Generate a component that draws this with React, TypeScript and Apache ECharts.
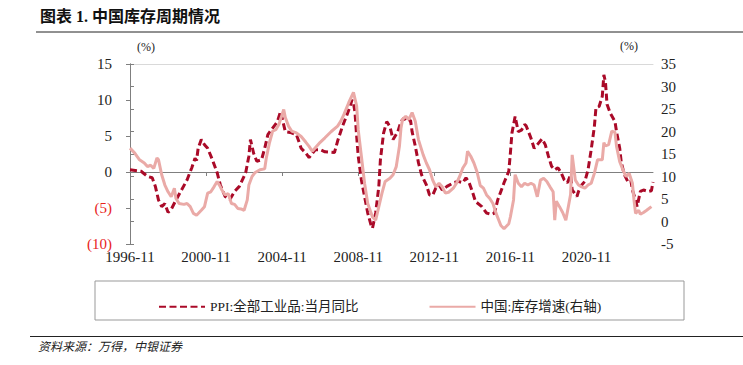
import React, { useEffect, useRef } from 'react';
import * as echarts from 'echarts';

// PPI: 全部工业品: 当月同比 (left axis, %)
const ppiDates = [
  '1996-11','1997-06','1997-10','1998-01','1998-03','1998-05','1998-07','1998-09','1998-11','1999-01',
  '1999-04','1999-07','1999-11','2000-02','2000-04','2000-05','2000-06','2000-08','2000-10','2000-12',
  '2001-03','2001-06','2001-08','2001-11','2002-02','2002-05','2002-08','2002-12','2003-02','2003-03',
  '2003-05','2003-07','2003-10','2003-12','2004-02','2004-05','2004-08','2004-10','2005-01','2005-04',
  '2005-08','2005-11','2006-02','2006-04','2006-08','2006-11','2007-02','2007-08','2007-10','2008-01',
  '2008-04','2008-06','2008-07','2008-08','2008-09','2008-10','2008-11','2009-01','2009-03','2009-05',
  '2009-07','2009-08','2009-10','2009-12','2010-01','2010-03','2010-05','2010-07','2010-09','2010-12',
  '2011-02','2011-04','2011-06','2011-08','2011-09','2011-11','2012-01','2012-03','2012-06','2012-08',
  '2012-10','2012-12','2013-02','2013-04','2013-07','2013-11','2014-02','2014-05','2014-07','2014-09',
  '2014-11','2015-01','2015-05','2015-08','2015-11','2016-01','2016-03','2016-05','2016-07','2016-10',
  '2016-11','2016-12','2017-02','2017-04','2017-06','2017-08','2017-09','2017-12','2018-02','2018-04',
  '2018-07','2018-09','2018-11','2019-01','2019-03','2019-05','2019-07','2019-09','2019-11','2020-01',
  '2020-02','2020-05','2020-06','2020-08','2020-10','2020-12','2021-02','2021-04','2021-05','2021-07',
  '2021-09','2021-10','2021-11','2021-12','2022-02','2022-05','2022-06','2022-08','2022-09','2022-11',
  '2023-01','2023-03','2023-04','2023-06','2023-07','2023-09','2023-11','2024-02','2024-04','2024-05',
];
const ppiValues = [
  0.3, 0.1, -0.6, -0.8, -2.0, -3.9, -4.8, -4.4, -5.6, -5.2,
  -3.9, -2.7, -1.1, 0.6, 1.9, 1.6, 3.3, 4.5, 3.8, 3.3,
  1.7, -0.1, -1.8, -3.4, -3.8, -2.7, -2.0, -0.1, 2.2, 4.5,
  2.6, 1.5, 1.7, 3.3, 5.2, 6.1, 7.0, 8.4, 5.6, 5.5,
  5.2, 3.3, 2.6, 2.0, 3.1, 3.1, 2.8, 2.7, 4.3, 6.3,
  8.0, 9.2, 10.0, 9.6, 8.2, 5.0, 2.2, -1.1, -3.4, -5.7,
  -7.3, -7.8, -5.7, -2.0, 1.7, 5.4, 7.0, 6.3, 4.5, 5.6,
  7.0, 7.5, 7.0, 7.2, 5.6, 3.6, 1.3, -0.4, -1.8, -3.2,
  -3.2, -2.2, -1.8, -2.5, -2.0, -1.5, -1.3, -1.5, -0.8, -1.5,
  -2.7, -4.1, -4.8, -5.7, -5.9, -5.7, -3.9, -2.7, -1.5, 0.1,
  2.6, 5.4, 7.7, 5.6, 5.8, 6.6, 6.4, 4.7, 3.3, 3.8,
  4.6, 3.8, 2.2, 0.8, 0.3, 0.6, -0.1, -1.1, -1.5, -0.4,
  -2.5, -3.4, -2.7, -1.8, -1.3, 0.3, 3.1, 6.3, 8.9, 9.1,
  10.5, 13.5, 12.5, 9.4, 8.2, 7.0, 5.6, 3.3, 1.3, -0.4,
  -1.3, -1.1, -2.5, -3.9, -4.8, -2.7, -2.5, -2.7, -2.6, -1.4,
];

// 中国: 库存增速 (right axis, %)
const invDates = [
  '1996-11','1997-02','1997-05','1997-08','1997-10','1997-12','1998-02','1998-04','1998-05','1998-07',
  '1998-09','1998-11','1999-01','1999-03','1999-04','1999-06','1999-09','1999-11','2000-01','2000-03',
  '2000-05','2000-08','2000-10','2000-12','2001-02','2001-04','2001-06','2001-08','2001-09','2001-11',
  '2002-01','2002-03','2002-05','2002-07','2002-09','2002-11','2003-01','2003-02','2003-04','2003-06',
  '2003-09','2003-12','2004-01','2004-03','2004-05','2004-07','2004-09','2004-11','2004-12','2005-01',
  '2005-03','2005-05','2005-08','2005-11','2006-02','2006-04','2006-06','2006-11','2007-02','2007-06',
  '2007-10','2007-12','2008-02','2008-05','2008-08','2008-10','2008-11','2009-01','2009-03','2009-05',
  '2009-08','2009-10','2009-12','2010-02','2010-04','2010-07','2010-09','2010-11','2011-01','2011-02',
  '2011-03','2011-05','2011-07','2011-09','2011-11','2012-01','2012-04','2012-06','2012-08','2012-10',
  '2012-12','2013-02','2013-04','2013-06','2013-08','2013-11','2014-01','2014-03','2014-05','2014-07',
  '2014-08','2014-10','2014-12','2015-02','2015-04','2015-06','2015-08','2015-10','2015-12','2016-02',
  '2016-05','2016-07','2016-10','2016-11','2017-01','2017-02','2017-04','2017-06','2017-08','2017-10',
  '2017-12','2018-02','2018-04','2018-06','2018-08','2018-10','2018-12','2019-02','2019-03','2019-04',
  '2019-06','2019-08','2019-10','2020-01','2020-02','2020-04','2020-06','2020-08','2020-10','2020-12',
  '2021-02','2021-04','2021-06','2021-09','2021-10','2021-11','2022-01','2022-03','2022-05','2022-06',
  '2022-08','2022-10','2022-12','2023-02','2023-04','2023-05','2023-06','2023-08','2023-09','2023-11',
  '2024-01','2024-04',
];
const invValues = [
  16.3, 15.2, 13.7, 13.0, 12.2, 12.5, 11.8, 14.1, 13.7, 10.4,
  8.1, 6.6, 5.5, 7.4, 5.1, 4.0, 3.8, 4.0, 3.3, 1.8,
  1.4, 2.5, 3.3, 6.3, 6.6, 7.7, 8.9, 7.7, 7.0, 5.9,
  6.2, 4.0, 3.8, 2.9, 2.8, 2.5, 4.8, 8.1, 10.0, 10.9,
  11.5, 11.7, 14.1, 17.5, 20.1, 20.4, 21.6, 23.8, 24.9, 23.1,
  21.2, 20.1, 19.7, 18.9, 17.6, 16.7, 15.6, 17.6, 18.6, 20.0,
  21.2, 22.3, 23.8, 26.4, 28.7, 25.7, 20.4, 14.5, 8.5, 4.0,
  1.0, 0.3, 3.3, 6.3, 8.9, 9.6, 10.4, 12.2, 16.7, 20.8,
  22.7, 23.4, 22.7, 24.2, 22.3, 18.2, 14.8, 13.0, 11.5, 9.2,
  7.7, 8.5, 7.7, 6.3, 6.5, 7.4, 8.5, 10.0, 11.9, 13.0,
  15.6, 14.5, 13.0, 11.0, 8.0, 7.4, 5.9, 5.1, 4.0, 1.8,
  -0.9, -1.6, -0.5, 1.0, 4.8, 10.4, 8.5, 7.7, 8.5, 8.1,
  8.5, 8.1, 5.5, 9.2, 9.6, 8.9, 7.7, 6.6, 0.3, 4.5,
  3.3, 2.0, 0.3, 6.0, 14.8, 9.2, 8.1, 7.7, 7.4, 8.1,
  8.5, 10.7, 13.7, 13.7, 17.5, 16.8, 17.1, 20.1, 19.8, 16.7,
  13.3, 11.5, 10.0, 10.7, 8.5, 4.8, 1.8, 2.5, 1.6, 2.0,
  2.5, 3.3,
];

const xStart = '1996-11';
const xEnd = '2024-05';
const xTickLabels = ['1996-11', '2000-11', '2004-11', '2008-11', '2012-11', '2016-11', '2020-11'];
const leftTicks = [-10, -5, 0, 5, 10, 15];
const rightTicks = [-5, 0, 5, 10, 15, 20, 25, 30, 35];

const seriesNames = ['PPI:全部工业品:当月同比', '中国:库存增速(右轴)'];
const titleText = '图表 1. 中国库存周期情况';
const sourceText = '资料来源：万得，中银证券';
const unitText = '(%)';

const toMonth = (s: string) => {
  const [y, m] = s.split('-').map(Number);
  const [y0, m0] = xStart.split('-').map(Number);
  return (y - y0) * 12 + (m - m0);
};
const toLabel = (v: number) => {
  const [y0, m0] = xStart.split('-').map(Number);
  const t = m0 - 1 + Math.round(v);
  const y = y0 + Math.floor(t / 12);
  const m = (t % 12) + 1;
  return `${y}-${String(m).padStart(2, '0')}`;
};

const SERIF = '"Liberation Serif", "Times New Roman", "Noto Sans CJK SC", serif';
const CJK = '"Liberation Serif", "Noto Sans CJK SC", sans-serif';

export default function App() {
  const ref = useRef<HTMLDivElement>(null);
  useEffect(() => {
    if (!ref.current) return;
    const chart = echarts.init(ref.current, undefined, { renderer: 'svg' });
    const xMin = toMonth(xStart);
    const xMax = toMonth(xEnd);
    const tickVals = xTickLabels.map(toMonth);
    const option: any = {
      animation: false,
      backgroundColor: '#ffffff',
      grid: { left: 130, right: 90, top: 64, bottom: 121 },
      legend: {
        data: seriesNames,
        left: 153,
        top: 295,
        itemWidth: 46,
        itemHeight: 14,
        itemGap: 70,
        itemStyle: { opacity: 0 },
        textStyle: { fontFamily: CJK, fontSize: 13.5, color: '#222' },
      },
      xAxis: [
        {
          type: 'value',
          min: xMin,
          max: xMax,
          position: 'bottom',
          axisLine: { show: true, onZero: true, onZeroAxisIndex: 0, lineStyle: { color: '#7f7f7f', width: 1 } },
          axisTick: { show: true, length: 4, customValues: tickVals, lineStyle: { color: '#7f7f7f' } },
          axisLabel: {
            show: true,
            customValues: tickVals,
            margin: 5,
            formatter: (v: number) => toLabel(v),
            fontFamily: SERIF,
            fontSize: 15,
            color: '#222',
          },
          splitLine: { show: false },
        },
        {
          type: 'value',
          min: xMin,
          max: xMax,
          position: 'top',
          axisLine: { show: true, onZero: false, lineStyle: { color: '#d9d9d9', width: 1 } },
          axisTick: { show: false },
          axisLabel: { show: false },
          splitLine: { show: false },
        },
      ],
      yAxis: [
        {
          type: 'value',
          position: 'left',
          min: leftTicks[0],
          max: leftTicks[leftTicks.length - 1],
          interval: 5,
          axisLine: { show: true, lineStyle: { color: '#7f7f7f' } },
          axisTick: { show: true, length: 4, lineStyle: { color: '#7f7f7f' } },
          axisLabel: {
            margin: 18,
            fontFamily: SERIF,
            fontSize: 15,
            formatter: (v: number) => (v < 0 ? `(${-v})` : `${v}`),
            color: (v: any) => (Number(v) < 0 ? '#e8231b' : '#222'),
          },
          splitLine: { show: false },
        },
        {
          type: 'value',
          position: 'right',
          min: rightTicks[0],
          max: rightTicks[rightTicks.length - 1],
          interval: 5,
          axisLine: { show: true, lineStyle: { color: '#7f7f7f' } },
          axisTick: { show: true, length: 4, lineStyle: { color: '#7f7f7f' } },
          axisLabel: { margin: 8, fontFamily: SERIF, fontSize: 15, color: '#222' },
          splitLine: { show: false },
        },
      ],
      series: [
        {
          name: seriesNames[0],
          type: 'line',
          xAxisIndex: 0,
          yAxisIndex: 0,
          symbol: 'none',
          data: ppiDates.map((d, i) => [toMonth(d), ppiValues[i]]),
          lineStyle: { color: '#aa0a28', width: 3, type: [7, 3.5] },
          itemStyle: { color: '#aa0a28' },
          z: 2,
        },
        {
          name: seriesNames[1],
          type: 'line',
          xAxisIndex: 0,
          yAxisIndex: 1,
          symbol: 'none',
          data: invDates.map((d, i) => [toMonth(d), invValues[i]]),
          lineStyle: { color: '#eaaaa7', width: 3 },
          itemStyle: { color: '#eaaaa7' },
          z: 3,
        },
      ],
      graphic: [
        {
          type: 'text',
          left: 40,
          top: 8,
          style: { text: titleText, font: `bold 16px ${CJK}`, fill: '#111' },
        },
        { type: 'line', shape: { x1: 36, y1: 32, x2: 743, y2: 32 }, style: { stroke: '#222', lineWidth: 1 } },
        { type: 'text', left: 137, top: 41, style: { text: unitText, font: `12px ${CJK}`, fill: '#222' } },
        { type: 'text', left: 620, top: 40, style: { text: unitText, font: `12px ${CJK}`, fill: '#222' } },
        {
          type: 'rect',
          shape: { x: 95, y: 281, width: 589, height: 39 },
          style: { fill: 'none', stroke: '#999', lineWidth: 1 },
          silent: true,
          z: -1,
        },
        { type: 'line', shape: { x1: 30, y1: 336.5, x2: 743, y2: 336.5 }, style: { stroke: '#222', lineWidth: 1 } },
        {
          type: 'text',
          left: 38,
          top: 341,
          style: { text: sourceText, font: `italic 12px ${CJK}`, fill: '#222' },
        },
      ],
    };
    chart.setOption(option);
    return () => chart.dispose();
  }, []);
  return <div ref={ref} style={{ position: 'absolute', left: 0, top: 0, width: 743, height: 365 }} />;
}
